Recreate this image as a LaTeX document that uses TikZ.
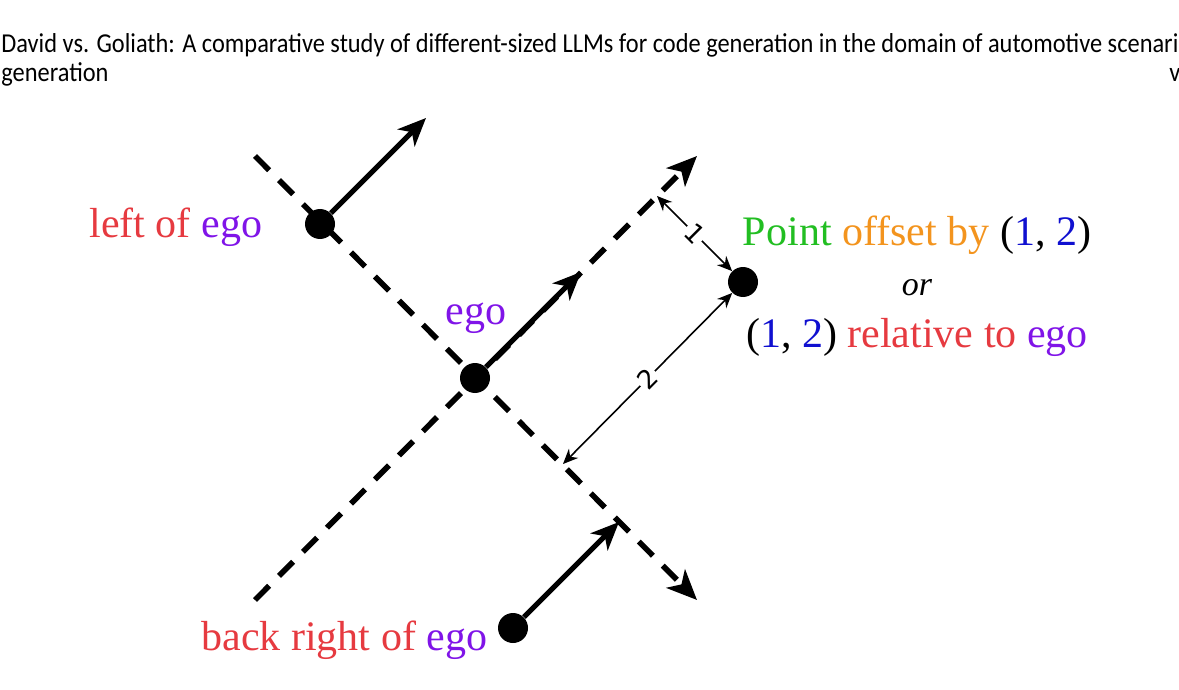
\documentclass[tikz,border=0pt]{standalone}
\usepackage{fontspec}
\usepackage{graphicx}
\setmainfont{Liberation Serif}
\newfontfamily\headfont{Carlito}
\newfontfamily\dimfont{DejaVu Sans}
\usetikzlibrary{arrows.meta}
\definecolor{cred}{RGB}{230,58,64}
\definecolor{cpurple}{RGB}{128,20,232}
\definecolor{cgreen}{RGB}{34,190,34}
\definecolor{corange}{RGB}{243,148,30}
\definecolor{cblue}{RGB}{16,16,208}
\newlength\hdwidth
\begin{document}
\settowidth{\hdwidth}{\headfont\fontsize{12pt}{14pt}\selectfont David vs. Goliath: A comparative study of different-sized LLMs for code generation in the domain of automotive scenario}%
\pgfmathsetmacro\hscale{595/\hdwidth}%
\pgfmathsetmacro\vscale{1.12*\hscale}%
\begin{tikzpicture}[x=0.5pt,y=-0.5pt,
  axis/.style={line width=2.8pt, dash pattern=on 10pt off 7pt, -{Stealth[length=15pt,width=13pt,inset=4pt]}},
  heading/.style={line width=2.5pt, -{Stealth[length=14pt,width=12pt,inset=4pt]}},
  dot/.style={circle, fill=black, inner sep=0pt, minimum size=15pt},
  dim/.style={line width=0.8pt, {Stealth[length=7.5pt,width=6.5pt]}-{Stealth[length=7.5pt,width=6.5pt]}},
  dimlabel/.style={font=\dimfont\fontsize{13pt}{15pt}\selectfont, fill=white, inner sep=1pt, sloped},
  lbl/.style={font=\fontsize{21pt}{25pt}\selectfont, inner sep=0pt},
  head/.style={inner sep=0pt, anchor=base west}]
\useasboundingbox (0,0) rectangle (1179,690);
% header
\node[head] (h1) at (1,53) {\scalebox{\hscale}[\vscale]{\headfont\fontsize{12pt}{14pt}\selectfont David vs. Goliath: A comparative study of different-sized LLMs for code generation in the domain of automotive scenario}};
\node[head] (h2) at (1,82) {\scalebox{\hscale}[\vscale]{\headfont\fontsize{12pt}{14pt}\selectfont generation}};
\node[head] (h3) at (1169,82) {\scalebox{\hscale}[\vscale]{\headfont\fontsize{12pt}{14pt}\selectfont v}};
% axes
\coordinate (fa) at (255,600);
\coordinate (fb) at (697,156);
\coordinate (ra) at (255,156);
\coordinate (rb) at (697,600);
\draw[axis] (fa) -- (fb);
\draw[axis] (ra) -- (rb);
% points
\node[dot] (ego) at (475,378) {};
\node[dot] (left) at (320,224) {};
\node[dot] (br) at (513,628) {};
\node[dot] (pt) at (743,282) {};
% headings
\coordinate (lefttip) at (426,118);
\coordinate (egotip) at (581,272);
\coordinate (brtip) at (619,522);
\draw[heading] (left) -- (lefttip);
\draw[heading] (ego) -- (egotip);
\draw[heading] (br) -- (brtip);
% dimensions
\coordinate (f1) at (657,196);
\coordinate (f2) at (563,464);
\draw[dim] (f1) -- node[dimlabel] (d1) {1} (pt);
\draw[dim] (f2) -- node[dimlabel] (d2) {2} (pt);
% labels
\node[lbl, anchor=base west] (leftlbl) at (89,237) {\textcolor{cred}{left of }\textcolor{cpurple}{ego}};
\node[lbl, anchor=base west, text=cpurple] (egolbl) at (445,324) {ego};
\node[lbl, anchor=base west] (brlbl) at (201,650) {\textcolor{cred}{back right of }\textcolor{cpurple}{ego}};
\node[lbl, anchor=base] (t1) at (917,245) {\textcolor{cgreen}{Point} \textcolor{corange}{offset by} (\textcolor{cblue}{1}, \textcolor{cblue}{2})};
\node[font=\fontsize{17pt}{20pt}\selectfont\itshape, inner sep=0pt, anchor=base] (t2) at (917,295) {or};
\node[lbl, anchor=base] (t3) at (917,347) {(\textcolor{cblue}{1}, \textcolor{cblue}{2}) \textcolor{cred}{relative to} \textcolor{cpurple}{ego}};
\end{tikzpicture}
\end{document}
